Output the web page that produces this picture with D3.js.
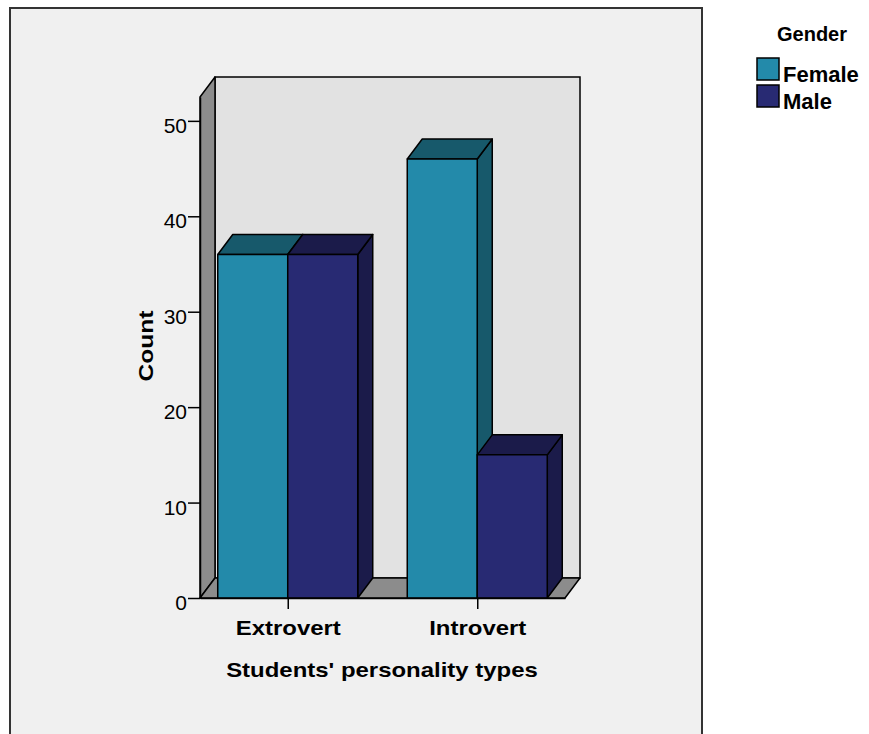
<!DOCTYPE html>
<html>
<head>
<meta charset="utf-8">
<script src="https://cdn.jsdelivr.net/npm/d3@7"></script>
<style>
  body { margin: 0; background: #fff; }
  text { font-family: "Liberation Sans", Arial, sans-serif; fill: #000; }
</style>
</head>
<body>
<div id="chart"></div>
<script>
// data
const categories = ["Extrovert", "Introvert"];
const genders = ["Female", "Male"];
const femaleCounts = [36, 46];
const maleCounts = [36, 15];
const yTicks = [0, 10, 20, 30, 40, 50];

const frontColor = { Female: "#238AAA", Male: "#282A73" };
const darkColor = { Female: "#17596B", Male: "#1B1B4A" };

const svg = d3.select("#chart").append("svg")
    .attr("width", 869)
    .attr("height", 734);

// outer frame
svg.append("rect")
    .attr("x", 10).attr("y", 8)
    .attr("width", 692).attr("height", 740)
    .attr("fill", "#F0F0F0")
    .attr("stroke", "#333")
    .attr("stroke-width", 2);

const plotLeft = 200, plotRight = 565, plotBottom = 598, plotTop = 97;
const dx = 15, dy = -20; // 3d depth

const y = d3.scaleLinear().domain([0, 52.5]).range([plotBottom, plotTop]);
const x = d3.scalePoint().domain(categories).range([plotLeft, plotRight]).padding(0.463);
const xSub = d3.scaleBand().domain(genders).range([-70, 70]).padding(0);

const line = d3.line();

// back wall
svg.append("rect")
    .attr("x", plotLeft + dx).attr("y", plotTop + dy)
    .attr("width", plotRight - plotLeft).attr("height", plotBottom - plotTop)
    .attr("fill", "#E2E2E2")
    .attr("stroke", "#000").attr("stroke-width", 1.5);

// left wall
svg.append("path")
    .attr("d", line([[plotLeft, plotTop], [plotLeft + dx, plotTop + dy], [plotLeft + dx, plotBottom + dy], [plotLeft, plotBottom]]) + "Z")
    .attr("fill", "#8C8C8C")
    .attr("stroke", "#000").attr("stroke-width", 1.5).attr("stroke-linejoin", "round");

// floor
svg.append("path")
    .attr("d", line([[plotLeft, plotBottom], [plotRight, plotBottom], [plotRight + dx, plotBottom + dy], [plotLeft + dx, plotBottom + dy]]) + "Z")
    .attr("fill", "#8C8C8C")
    .attr("stroke", "#000").attr("stroke-width", 1.5).attr("stroke-linejoin", "round");

// bars
const bars = [];
categories.forEach((c, i) => {
    bars.push({ cat: c, g: "Female", v: femaleCounts[i] });
    bars.push({ cat: c, g: "Male", v: maleCounts[i] });
});

const bw = xSub.bandwidth();
bars.forEach(d => {
    const x0 = x(d.cat) + xSub(d.g), x1 = x0 + bw;
    const y0 = y(d.v), y1 = y(0);
    const g = svg.append("g")
        .attr("stroke", "#000").attr("stroke-width", 1.5).attr("stroke-linejoin", "round");
    g.append("path")
        .attr("d", line([[x1, y0], [x1 + dx, y0 + dy], [x1 + dx, y1 + dy], [x1, y1]]) + "Z")
        .attr("fill", darkColor[d.g]);
    g.append("path")
        .attr("d", line([[x0, y0], [x0 + dx, y0 + dy], [x1 + dx, y0 + dy], [x1, y0]]) + "Z")
        .attr("fill", darkColor[d.g]);
    g.append("rect")
        .attr("x", x0).attr("y", y0)
        .attr("width", bw).attr("height", y1 - y0)
        .attr("fill", frontColor[d.g]);
});

// stretch bold labels a bit, like the original renderer
function stretch(sel, k) {
    sel.each(function() {
        const w = this.getComputedTextLength();
        d3.select(this).attr("textLength", w * k).attr("lengthAdjust", "spacingAndGlyphs");
    });
}

// y axis
const yAxis = svg.append("g")
    .attr("transform", `translate(${plotLeft},0)`)
    .call(d3.axisLeft(y).tickValues(yTicks).tickSize(12).tickPadding(1).tickSizeOuter(0));
yAxis.select(".domain").attr("stroke", "#000").attr("stroke-width", 1.5);
yAxis.selectAll(".tick line").attr("stroke", "#000").attr("stroke-width", 1.5);
yAxis.selectAll(".tick text")
    .attr("font-family", "Liberation Sans, Arial, sans-serif")
    .attr("font-size", 21)
    .attr("dy", "0.55em");

// x axis
const xAxis = svg.append("g")
    .attr("transform", `translate(0,${plotBottom})`)
    .call(d3.axisBottom(x).tickSize(11).tickPadding(11).tickSizeOuter(0));
xAxis.select(".domain").attr("stroke", "#000").attr("stroke-width", 1.5);
xAxis.selectAll(".tick line").attr("stroke", "#000").attr("stroke-width", 1.5);
xAxis.selectAll(".tick text")
    .attr("font-family", "Liberation Sans, Arial, sans-serif")
    .attr("font-size", 21)
    .attr("font-weight", "bold")
    .call(stretch, 1.14);

// axis titles
svg.append("text")
    .attr("x", 382).attr("y", 677)
    .attr("text-anchor", "middle")
    .attr("font-size", 21).attr("font-weight", "bold")
    .text("Students' personality types")
    .call(stretch, 1.14);

svg.append("text")
    .attr("transform", "translate(153,346) rotate(-90)")
    .attr("text-anchor", "middle")
    .attr("font-size", 21).attr("font-weight", "bold")
    .text("Count")
    .call(stretch, 1.17);

// legend
svg.append("text")
    .attr("x", 812).attr("y", 41)
    .attr("text-anchor", "middle")
    .attr("font-size", 20).attr("font-weight", "bold")
    .text("Gender");

const legend = svg.selectAll(".legend-item")
    .data(genders)
    .enter().append("g")
    .attr("class", "legend-item")
    .attr("transform", (d, i) => `translate(757,${58 + i * 27})`);
legend.append("rect")
    .attr("width", 22).attr("height", 22)
    .attr("fill", d => frontColor[d])
    .attr("stroke", "#000").attr("stroke-width", 1.5);
legend.append("text")
    .attr("x", 26).attr("y", 24)
    .attr("font-size", 22).attr("font-weight", "bold")
    .text(d => d);
</script>
</body>
</html>
